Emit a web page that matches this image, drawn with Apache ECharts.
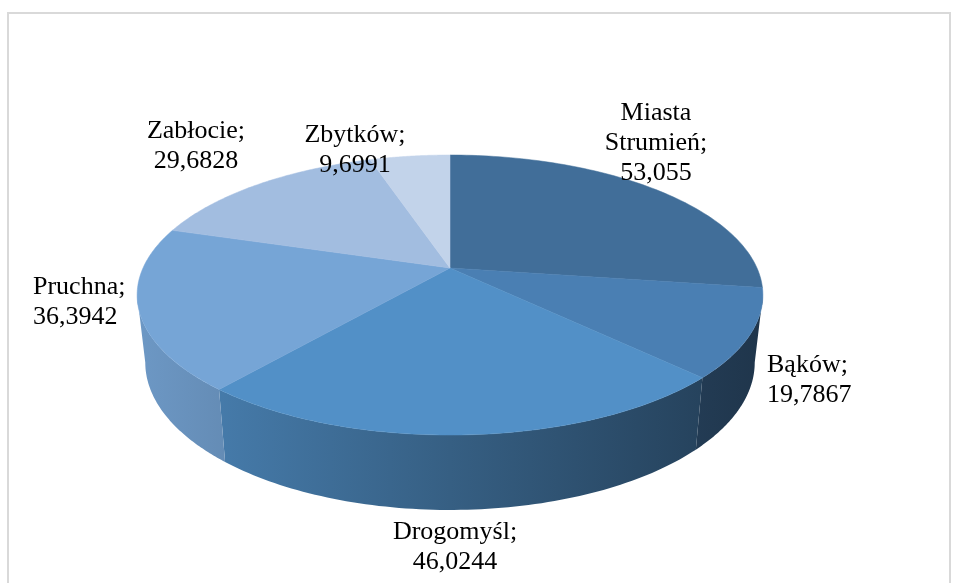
<!DOCTYPE html>
<html>
<head>
<meta charset="utf-8">
<script src="https://cdn.jsdelivr.net/npm/echarts@6/dist/echarts.min.js"></script>
<style>
  html, body { margin: 0; padding: 0; background: #fff; }
  #chart { width: 957px; height: 583px; }
</style>
</head>
<body>
<div id="chart"></div>
<script>
// dane
const categories = ['Miasta Strumień', 'Bąków', 'Drogomyśl', 'Pruchna', 'Zabłocie', 'Zbytków']
const values = [53.055, 19.7867, 46.0244, 36.3942, 29.6828, 9.6991]
const colors = ['#416e99', '#4a7fb3', '#5290c7', '#76a5d6', '#a2bde0', '#c2d3ea']

// rzut 3D (perspektywa): wierzch i spód tortu
const top3d = { cx: 450, cy: 268, rx: 307, ry: 134.8, persp: 0.193 }
const bottom3d = { cx: 450, cy: 334, rx: 299, ry: 142, persp: 0.193 }
// etykiety: środek bloku tekstu
const labelPos = [
  { x: 656, y: 143, align: 'center' },
  { x: 767, y: 380, align: 'left' },
  { x: 455, y: 547, align: 'center' },
  { x: 33, y: 302, align: 'left' },
  { x: 196, y: 146, align: 'center' },
  { x: 355, y: 150, align: 'center' }
]

const total = values.reduce((a, b) => a + b, 0)
const starts = []
let acc = 0
values.forEach(v => { starts.push(acc / total * Math.PI * 2); acc += v })

function proj(theta, p) {
  const u = Math.sin(theta), v = Math.cos(theta)
  const d = 1 + p.persp * v
  return [p.cx + p.rx * u / d, p.cy - p.ry * v / d]
}

function shade(hex, f) {
  const n = parseInt(hex.slice(1), 16)
  const r = Math.round(((n >> 16) & 255) * f)
  const g = Math.round(((n >> 8) & 255) * f)
  const b = Math.round((n & 255) * f)
  return 'rgb(' + r + ',' + g + ',' + b + ')'
}

const visA = Math.acos(-top3d.persp)           // prawa krawędź widoczna
const visB = Math.PI * 2 - visA                // lewa krawędź
const xL = proj(visB, top3d)[0], xR = proj(visA, top3d)[0]

function renderItem(params, api) {
  const i = params.dataIndex
  const a0 = starts[i]
  const a1 = a0 + api.value(0) / total * Math.PI * 2
  const children = []
  const steps = 80

  // ściana boczna
  const s0 = Math.max(a0, visA), s1 = Math.min(a1, visB)
  if (s1 > s0) {
    const topPts = [], botPts = []
    for (let k = 0; k <= steps; k++) {
      const t = s0 + (s1 - s0) * k / steps
      topPts.push(proj(t, top3d))
      botPts.push(proj(t, bottom3d))
    }
    const c = colors[i]
    children.push({
      type: 'polygon',
      shape: { points: topPts.concat(botPts.reverse()) },
      style: {
        fill: new echarts.graphic.LinearGradient(xL, 0, xR, 0, [
          { offset: 0, color: shade(c, 0.92) },
          { offset: 0.5, color: shade(c, 0.66) },
          { offset: 1, color: shade(c, 0.42) }
        ], true),
        stroke: null
      }
    })
  }

  // wierzch
  const pts = [[top3d.cx, top3d.cy]]
  for (let k = 0; k <= steps; k++) {
    pts.push(proj(a0 + (a1 - a0) * k / steps, top3d))
  }
  children.push({
    type: 'polygon',
    shape: { points: pts },
    style: { fill: colors[i], stroke: colors[i], lineWidth: 0.5 }
  })

  // etykieta
  const lp = labelPos[i]
  children.push({
    type: 'text',
    z2: 10,
    style: {
      x: lp.x, y: lp.y,
      text: categories[i].replace(' ', '\n') + ';\n' + String(api.value(0)).replace('.', ','),
      align: lp.align,
      verticalAlign: 'middle',
      font: '26px "Liberation Serif"',
      lineHeight: 30,
      fill: '#000'
    }
  })
  return { type: 'group', children: children }
}

const chart = echarts.init(document.getElementById('chart'))
chart.setOption({
  backgroundColor: '#fff',
  animation: false,
  graphic: [{
    type: 'rect',
    shape: { x: 8, y: 13, width: 942, height: 600 },
    style: { fill: null, stroke: '#d9d9d9', lineWidth: 2 },
    silent: true
  }],
  series: [{
    type: 'custom',
    coordinateSystem: 'none',
    renderItem: renderItem,
    data: values.map((v, i) => ({ name: categories[i], value: [v] }))
  }]
})
</script>
</body>
</html>
